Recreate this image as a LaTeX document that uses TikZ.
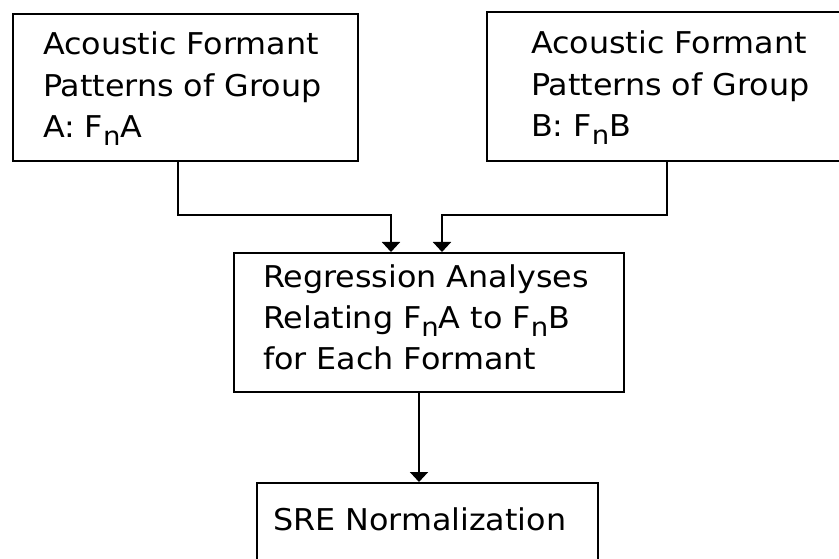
\documentclass[tikz,border=0pt]{standalone}
\usepackage{fontspec}
\setmainfont{DejaVu Sans}[FakeStretch=1.06]
\usetikzlibrary{arrows.meta}
% lowered small n used in F_n
\newcommand\fsub{\raisebox{-8pt}{\fontsize{26}{26}\selectfont n}}
\begin{document}
\begin{tikzpicture}[x=1pt,y=-1pt,
  box/.style={draw=black, line width=2pt, rectangle, anchor=north west,
    align=left, font=\fontsize{30}{41.5}\selectfont, inner ysep=0pt},
  arr/.style={line width=2pt, -{Triangle[width=18pt,length=10pt]}}]
\path[use as bounding box, fill=white] (0,0) rectangle (839,559);
\clip (0,0) rectangle (839,559);

\node[box, text width=285pt, inner xsep=30pt, minimum height=147pt] (A) at (12,13)
  {\rule{0pt}{26pt}Acoustic Formant\\Patterns of Group\\A: F\fsub A};
\node[box, text width=282pt, inner xsep=44pt, minimum height=149pt] (B) at (486,11)
  {\rule{0pt}{26pt}Acoustic Formant\\Patterns of Group\\B: F\fsub B};
\node[box, text width=332pt, inner xsep=29pt, minimum height=139pt,
  font=\fontsize{30}{41}\selectfont] (M) at (233,252)
  {Regression Analyses\\Relating F\fsub A to F\fsub B\\for Each Formant\rule[-10pt]{0pt}{10pt}};
\node[box, text width=309pt, inner xsep=16pt, inner ysep=25pt,
  text height=22pt, text depth=45pt] (S) at (256,482) {SRE Normalization};

\coordinate (ja) at (391,215);
\coordinate (jb) at (442,215);
\draw[arr] ([xshift=166pt]A.south west) |- (ja) -- (ja |- M.north);
\draw[arr] ([xshift=181pt]B.south west) |- (jb) -- (jb |- M.north);
\draw[arr] ([xshift=186pt]M.south west) -- ([xshift=163pt]S.north west);
\end{tikzpicture}
\end{document}
